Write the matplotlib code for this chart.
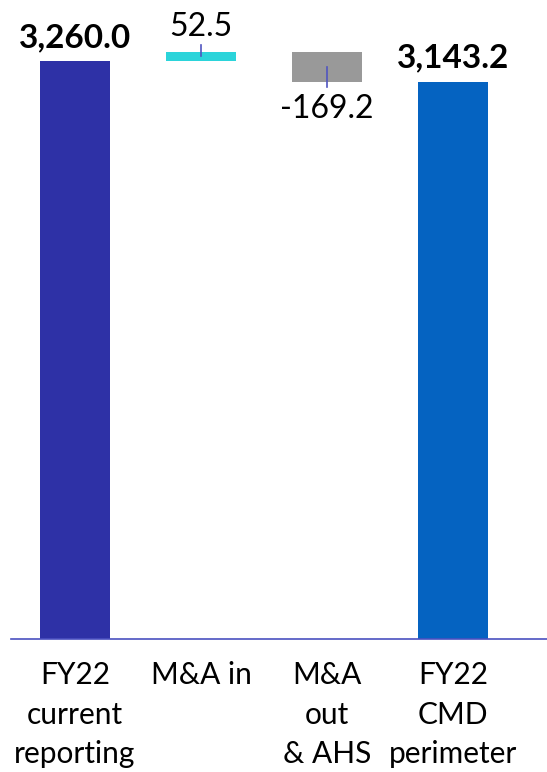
import matplotlib.pyplot as plt

# waterfall data
categories = ['FY22\ncurrent\nreporting', 'M&A in', 'M&A\nout\n& AHS', 'FY22\nCMD\nperimeter']
values = [3260.0, 52.5, -169.2, 3143.2]
is_total = [True, False, False, True]
value_labels = ['3,260.0', '52.5', '-169.2', '3,143.2']
colors = ['#2e31a6', '#2bd4da', '#999999', '#0563c1']

plt.rcParams['font.family'] = ['Lato', 'DejaVu Sans']

fig = plt.figure(figsize=(5.47, 7.72), dpi=100)
ax = fig.add_axes([11 / 547, 1 - 639 / 772, 536 / 547, 639 / 772])

# compute bar bottoms / heights
bottoms, heights = [], []
running = 0.0
for v, tot in zip(values, is_total):
    if tot:
        bottoms.append(0.0)
        heights.append(v)
        running = v
    else:
        bottoms.append(min(running, running + v))
        heights.append(abs(v))
        running += v

x = list(range(len(values)))
ax.bar(x, heights, bottom=bottoms, width=0.563, color=colors, zorder=2)

# value labels + small leader ticks on the delta bars
for i, (v, tot) in enumerate(zip(values, is_total)):
    top = bottoms[i] + heights[i]
    mid = bottoms[i] + heights[i] / 2
    if tot:
        ax.annotate(value_labels[i], (i, top), xytext=(0, 10), textcoords='offset points',
                    ha='center', va='baseline', fontsize=24, fontweight='bold', color='black')
    elif v >= 0:
        ax.plot([i, i], [mid, mid + 62], color='#5055c0', lw=1.2, zorder=3)
        ax.annotate(value_labels[i], (i, top), xytext=(0, 11), textcoords='offset points',
                    ha='center', va='baseline', fontsize=23, color='black')
    else:
        ax.plot([i, i], [mid, mid - 113], color='#5055c0', lw=1.2, zorder=3)
        ax.annotate(value_labels[i], (i, bottoms[i]), xytext=(0, -26), textcoords='offset points',
                    ha='center', va='baseline', fontsize=23, color='black')

ax.set_xlim(-0.508, 3.746)
ax.set_ylim(0, 3604)
for s in ['top', 'right', 'left']:
    ax.spines[s].set_visible(False)
ax.spines['bottom'].set_color('#4a50c0')
ax.spines['bottom'].set_linewidth(1.2)
ax.set_yticks([])
ax.set_xticks(x)
ax.set_xticklabels(categories, fontsize=21.5, linespacing=1.5)
ax.tick_params(axis='x', length=0, pad=16)

fig.savefig('out.png', dpi=100)
